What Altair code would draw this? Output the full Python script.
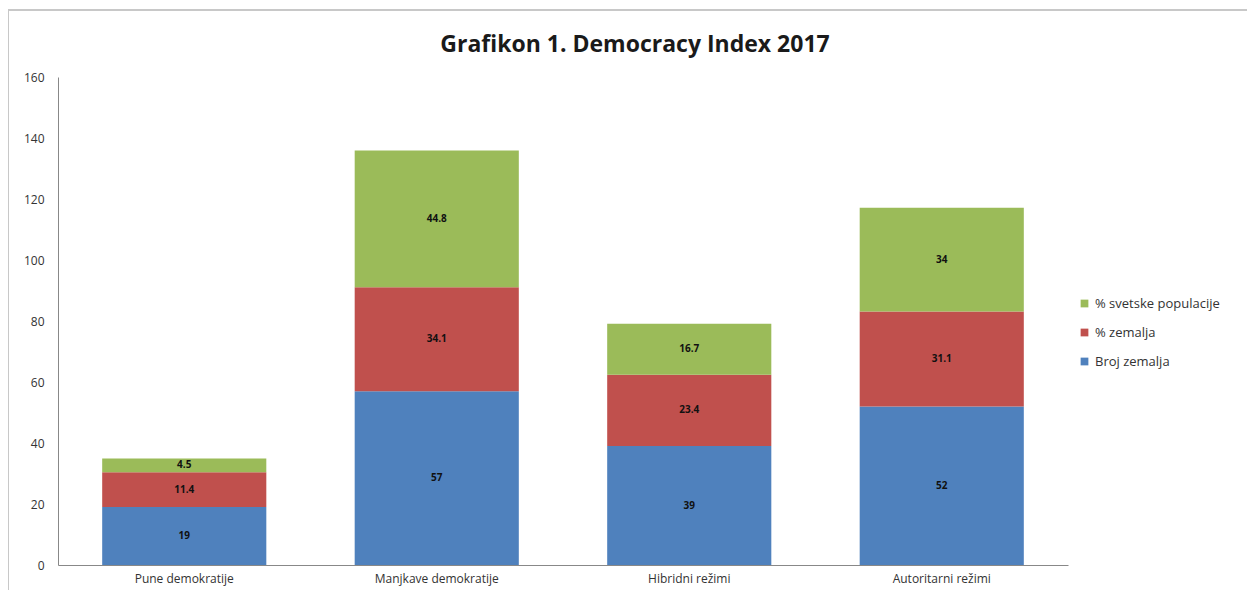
import altair as alt
import pandas as pd

categories = ["Pune demokratije", "Manjkave demokratije", "Hibridni režimi", "Autoritarni režimi"]
series = ["Broj zemalja", "% zemalja", "% svetske populacije"]
broj_zemalja = [19, 57, 39, 52]
pct_zemalja = [11.4, 34.1, 23.4, 31.1]
pct_populacije = [4.5, 44.8, 16.7, 34]
colors = ["#4F81BD", "#C0504D", "#9BBB59"]

rows = []
for i, c in enumerate(categories):
    for j, (s, vals) in enumerate(zip(series, [broj_zemalja, pct_zemalja, pct_populacije])):
        rows.append({"cat": c, "series": s, "value": vals[i], "ord": j})
df = pd.DataFrame(rows)

base = alt.Chart(df).transform_stack(
    stack="value", groupby=["cat"], as_=["y0", "y1"], sort=[alt.SortField("ord", order="ascending")]
).transform_calculate(mid="(datum.y0 + datum.y1) / 2")

xenc = alt.X("cat:N", sort=categories, title=None,
             scale=alt.Scale(paddingInner=0.35, paddingOuter=0.175),
             axis=alt.Axis(labelAngle=0, labelFontSize=12, labelColor="#333333", labelFont="Open Sans",
                           domainColor="#888888", ticks=False, labelPadding=8))

bars = base.mark_bar().encode(
    x=xenc,
    y=alt.Y("y0:Q", title=None, scale=alt.Scale(domain=[0, 160]),
            axis=alt.Axis(values=list(range(0, 161, 20)), grid=False, ticks=False, domainColor="#888888",
                          labelFontSize=12, labelColor="#333333", labelFont="Open Sans", labelPadding=14)),
    y2="y1:Q",
    color=alt.Color("series:N",
                    scale=alt.Scale(domain=[series[2], series[1], series[0]],
                                    range=[colors[2], colors[1], colors[0]]),
                    legend=alt.Legend(title=None, orient="none", legendX=1020, legendY=220,
                                      symbolType="square", symbolSize=60, labelFontSize=13,
                                      labelFont="Open Sans", labelColor="#333333", rowPadding=15,
                                      symbolStrokeWidth=0)),
)

labels = base.mark_text(fontSize=10, fontWeight="bold", color="#111111", font="Open Sans").encode(
    x=alt.X("cat:N", sort=categories),
    y=alt.Y("mid:Q"),
    text=alt.Text("value:Q"),
)

frame_df = pd.DataFrame({"k": [0]})
frame_top = alt.Chart(frame_df).mark_rule(color="#c8c8c8", strokeWidth=2).encode(
    x=alt.value(-50), x2=alt.value(1197), y=alt.value(-67))
frame_left = alt.Chart(frame_df).mark_rule(color="#c8c8c8", strokeWidth=2).encode(
    x=alt.value(-50), y=alt.value(-67), y2=alt.value(521))

chart = (bars + labels + frame_top + frame_left).properties(
    width=1010, height=488,
    title=alt.TitleParams("Grafikon 1. Democracy Index 2017", fontSize=23, fontWeight="bold",
                          font="Open Sans", color="#1a1a1a", offset=-48, dx=72),
    autosize=alt.AutoSizeParams(type="none"),
    padding={"left": 50, "top": 69, "right": 179, "bottom": 25},
).configure_view(stroke=None)

chart.save("out.html", embed_options={"renderer": "svg", "actions": False})
